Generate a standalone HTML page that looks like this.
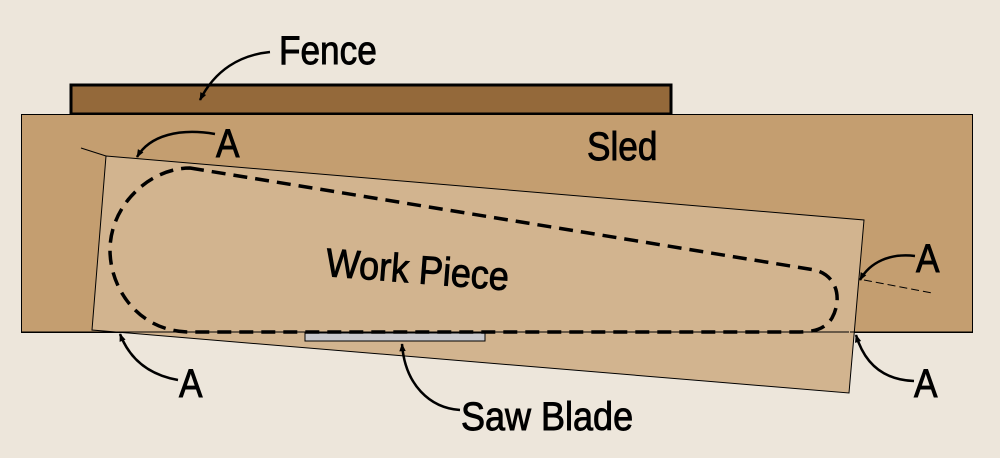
<!DOCTYPE html>
<html><head><style>html,body{margin:0;padding:0;background:#ede6db;}svg{display:block}</style></head>
<body>
<svg width="1000" height="458" viewBox="0 0 1000 458" xmlns="http://www.w3.org/2000/svg">
<defs>
<marker id="ah" viewBox="0 0 10 10" refX="9" refY="5" markerWidth="9" markerHeight="8" orient="auto-start-reverse" markerUnits="userSpaceOnUse">
<path d="M0,1 L10,5 L0,9 Z" fill="#000"/>
</marker>
</defs>
<rect width="1000" height="458" fill="#ede6db"/>
<rect x="71" y="85" width="600" height="29" fill="#94693a" stroke="#000" stroke-width="3"/>
<rect x="21.5" y="114.5" width="951" height="218" fill="#c49e70" stroke="#000" stroke-width="1"/>
<polygon points="106,156 864,220 849,393 92,330" fill="#d2b48f" stroke="#000" stroke-width="1"/>
<line x1="21" y1="332" x2="92" y2="332" stroke="#000" stroke-width="1"/>
<line x1="850" y1="332" x2="973" y2="332" stroke="#000" stroke-width="1"/>
<line x1="81" y1="148" x2="106" y2="156" stroke="#000" stroke-width="1"/>
<line x1="864" y1="280" x2="932" y2="293" stroke="#000" stroke-width="1" stroke-dasharray="8 4"/>
<line x1="92" y1="332" x2="849" y2="332" stroke="#000" stroke-width="1"/>
<rect x="305" y="333" width="180" height="8" fill="#c8c8cc" stroke="#000" stroke-width="1"/>
<path d="M190,168 L815,270 C838,276 842,300 832,318 C826,328 815,332 800,332 L190,332 C140,332 110,290 110,250 C110,205 150,168 190,168 Z" fill="none" stroke="#000" stroke-width="3.5" stroke-dasharray="14 8"/>
<g fill="none" stroke="#000" stroke-width="2.5">
<path d="M270,52 C240,55 215,70 200,100" marker-end="url(#ah)"/>
<path d="M215,134 C180,128 150,135 137,157" marker-end="url(#ah)"/>
<path d="M915,256 C890,253 870,262 860,280" marker-end="url(#ah)"/>
<path d="M178,380 C150,375 130,360 120,334" marker-end="url(#ah)"/>
<path d="M914,381 C885,380 865,365 856,335" marker-end="url(#ah)"/>
<path d="M460,410 C430,408 405,385 402,344" marker-end="url(#ah)"/>
</g>
<g font-family="Liberation Sans, sans-serif" fill="#000" stroke="#000" stroke-width="0.9">
<text x="0" y="0" font-size="40" transform="translate(279 64) scale(0.88 1)">Fence</text>
<text x="0" y="0" font-size="40" transform="translate(587 160) scale(0.88 1)">Sled</text>
<text x="0" y="0" font-size="40" transform="translate(325 276) rotate(4.5) scale(0.9 1)">Work Piece</text>
<text x="0" y="0" font-size="40" transform="translate(461 430) scale(0.9 1)">Saw Blade</text>
<text x="0" y="0" font-size="40" transform="translate(216 157) scale(0.88 1)">A</text>
<text x="0" y="0" font-size="40" transform="translate(916 272) scale(0.88 1)">A</text>
<text x="0" y="0" font-size="40" transform="translate(179 397) scale(0.88 1)">A</text>
<text x="0" y="0" font-size="40" transform="translate(914 397) scale(0.88 1)">A</text>
</g>
</svg>
</body></html>
